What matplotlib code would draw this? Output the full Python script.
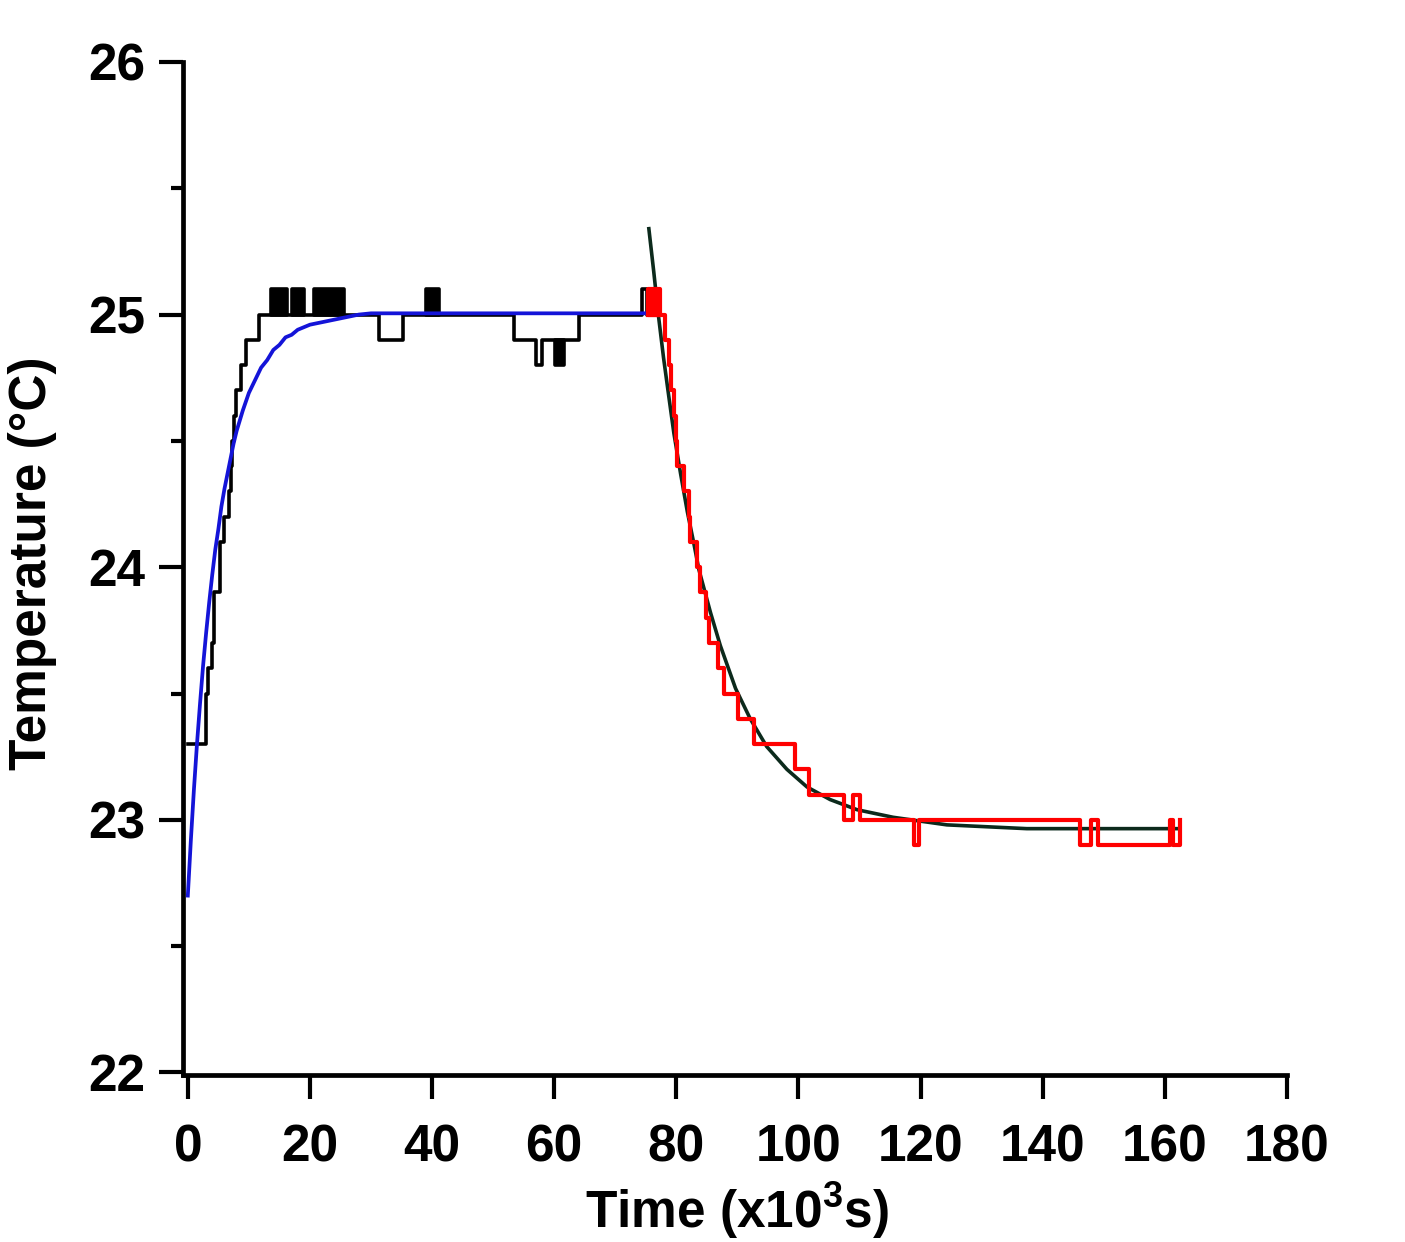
import matplotlib
matplotlib.use("Agg")
import matplotlib.pyplot as plt

plt.rcParams["font.family"] = ["Liberation Sans", "DejaVu Sans"]
plt.rcParams["font.weight"] = "bold"
plt.rcParams["font.size"] = 37
plt.rcParams["mathtext.default"] = "regular"

# heating run, measured (step) values
heat_t = [0, 2.95, 3.3, 3.9, 4.3, 5.2, 5.9, 6.8, 7.0, 7.3, 7.5, 7.85, 8.7, 9.5, 11.6,
          31.3, 35.3, 53.4, 57.0, 58.0, 64.0, 74.4, 75.2, 75.4]
heat_T = [23.3, 23.5, 23.6, 23.7, 23.9, 24.1, 24.2, 24.3, 24.4, 24.5, 24.6, 24.7, 24.8, 24.9, 25.0,
          24.9, 25.0, 24.9, 24.8, 24.9, 25.0, 25.1, 25.0, 25.0]

# intervals where the reading flickers between two levels (drawn as solid blocks)
heat_band_start = [13.6, 17.1, 20.6, 39.0, 60.2]
heat_band_end = [16.3, 19.0, 25.5, 41.1, 61.6]
heat_band_lo = [25.0, 25.0, 25.0, 25.0, 24.8]
heat_band_hi = [25.1, 25.1, 25.1, 25.1, 24.9]

# heating fit (blue)
heat_fit_t = [0, 0.5, 1.0, 1.5, 2.0, 2.5, 3.0, 3.5, 4.0, 4.5, 5.0, 5.5, 6.0, 6.5, 7.0, 7.5, 8.0,
              9.0, 10, 11, 12, 13, 14, 15, 16, 17, 18, 20, 22, 24, 26, 28, 30, 74.8]
heat_fit_T = [22.70, 22.92, 23.12, 23.30, 23.46, 23.61, 23.74, 23.86, 23.97, 24.07, 24.15, 24.24,
              24.31, 24.37, 24.43, 24.49, 24.54, 24.62, 24.69, 24.74, 24.79, 24.82, 24.86, 24.88,
              24.91, 24.92, 24.94, 24.96, 24.97, 24.98, 24.99, 25.0, 25.005, 25.005]

# cooling run, measured (step) values
cool_t = [75.3, 78.2, 78.8, 79.2, 79.6, 79.9, 80.1, 81.2, 82.0, 82.3, 83.4, 83.8, 84.9, 85.4,
          86.8, 87.8, 90.1, 92.8, 99.5, 101.8, 107.4, 109.0, 110.1, 118.9, 119.8, 146.1, 147.9,
          149.1, 160.9, 161.3, 162.4]
cool_T = [25.0, 24.9, 24.8, 24.7, 24.6, 24.5, 24.4, 24.3, 24.2, 24.1, 24.0, 23.9, 23.8, 23.7,
          23.6, 23.5, 23.4, 23.3, 23.2, 23.1, 23.0, 23.1, 23.0, 22.9, 23.0, 22.9, 23.0,
          22.9, 23.0, 22.9, 23.0]
cool_band_start = [75.3]
cool_band_end = [77.3]
cool_band_lo = [25.0]
cool_band_hi = [25.1]

# cooling fit (dark green)
cool_fit_t = [75.5, 76.3, 77.1, 77.9, 78.8, 79.6, 80.7, 81.8, 82.9, 83.7, 85.6, 87.2, 89.7,
              92.1, 94.8, 98.1, 101.4, 105.2, 109.6, 115.5, 124.3, 137.4, 162.0]
cool_fit_T = [25.34, 25.17, 24.99, 24.83, 24.67, 24.53, 24.37, 24.22, 24.09, 23.99, 23.82,
              23.69, 23.52, 23.40, 23.29, 23.20, 23.13, 23.08, 23.04, 23.01, 22.98, 22.965, 22.965]

fig = plt.figure(figsize=(14.05, 12.42), dpi=100)
ax = fig.add_axes([0.1302, 0.1345, 0.7858, 0.8156])

ax.step(heat_t, heat_T, where="post", color="black", lw=2.6, zorder=2)
for a, b, lo, hi in zip(heat_band_start, heat_band_end, heat_band_lo, heat_band_hi):
    ax.fill_between([a, b], [lo, lo], [hi, hi], facecolor="black", edgecolor="black",
                    lw=2.6, zorder=2)

ax.plot(heat_fit_t, heat_fit_T, color="#1414d8", lw=2.7, zorder=3)
ax.plot(cool_fit_t, cool_fit_T, color="#0c2a1c", lw=2.6, zorder=4)

ax.step(cool_t, cool_T, where="post", color="#ff0000", lw=3.0, zorder=5)
for a, b, lo, hi in zip(cool_band_start, cool_band_end, cool_band_lo, cool_band_hi):
    ax.fill_between([a, b], [lo, lo], [hi, hi], facecolor="#ff0000", edgecolor="#ff0000",
                    lw=3.0, zorder=5)

ax.set_xlim(-0.8, 180)
ax.set_ylim(21.99, 26)
ax.set_xticks(range(0, 181, 20))
ax.set_yticks([22, 23, 24, 25, 26])
ax.set_yticks([22.5, 23.5, 24.5, 25.5], minor=True)

for s in ["top", "right"]:
    ax.spines[s].set_visible(False)
for s in ["left", "bottom"]:
    ax.spines[s].set_linewidth(3.4)

ax.tick_params(axis="both", which="major", length=17, width=3, direction="out")
ax.tick_params(axis="y", which="minor", length=8.5, width=3, direction="out")
ax.tick_params(axis="y", which="major", pad=10)
ax.tick_params(axis="x", which="major", pad=18)

fig.text(33 / 1405, 1 - 563 / 1242, "Temperature (°C)", rotation=90,
         ha="center", va="center")
fig.text(737 / 1405, 1 - 1228 / 1242, "Time (x10$^{3}$s)", ha="center", va="baseline")

fig.savefig("out.png", dpi=100)
